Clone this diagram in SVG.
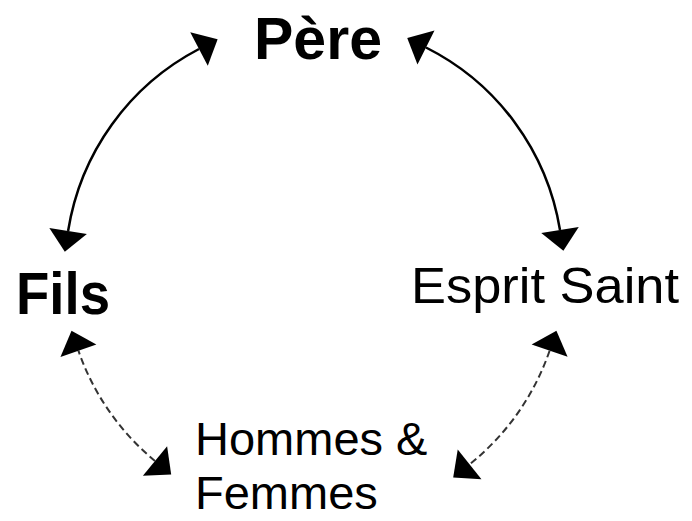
<svg xmlns="http://www.w3.org/2000/svg" width="692" height="521" viewBox="0 0 692 521">
  <style>
    .lbl { font-family: "Liberation Sans", Arial, sans-serif; fill: #000; }
    .bold { font-weight: bold; }
    .solid { fill: none; stroke: #000; stroke-width: 2.5; }
    .dashed { fill: none; stroke: #333; stroke-width: 2; stroke-dasharray: 7 4; }
  </style>
  <defs>
    <marker id="head" markerUnits="userSpaceOnUse" markerWidth="24" markerHeight="42" viewBox="-1 -21 24 42" refX="0" refY="0" orient="auto-start-reverse" overflow="visible">
      <path d="M0,-19 L21,0 L0,19 z" fill="#000"/>
    </marker>
  </defs>
  <rect width="692" height="521" fill="#fff"/>
  <g id="connectors">
    <path class="solid" d="M68.1,231 A249,249 0 0 1 199,49" marker-start="url(#head)" marker-end="url(#head)"/>
    <path class="solid" d="M426,47.5 A249,249 0 0 1 560,230" marker-start="url(#head)" marker-end="url(#head)"/>
    <path class="dashed" d="M155,461 A249,249 0 0 1 78.4,350.7" marker-start="url(#head)" marker-end="url(#head)"/>
    <path class="dashed" d="M549.6,350.7 A249,249 0 0 1 469.6,464.3" marker-start="url(#head)" marker-end="url(#head)"/>
  </g>
  <g id="pere">
    <text class="lbl bold" x="254" y="59" font-size="59">Père</text>
  </g>
  <g id="fils">
    <text class="lbl bold" x="16" y="314" font-size="60" textLength="94" lengthAdjust="spacingAndGlyphs">Fils</text>
  </g>
  <g id="esprit">
    <text class="lbl" x="411" y="303" font-size="50" textLength="268" lengthAdjust="spacingAndGlyphs">Esprit Saint</text>
  </g>
  <g id="hommes">
    <text class="lbl" x="195" y="455" font-size="47">Hommes &amp;</text>
    <text class="lbl" x="195" y="509" font-size="47">Femmes</text>
  </g>
</svg>
